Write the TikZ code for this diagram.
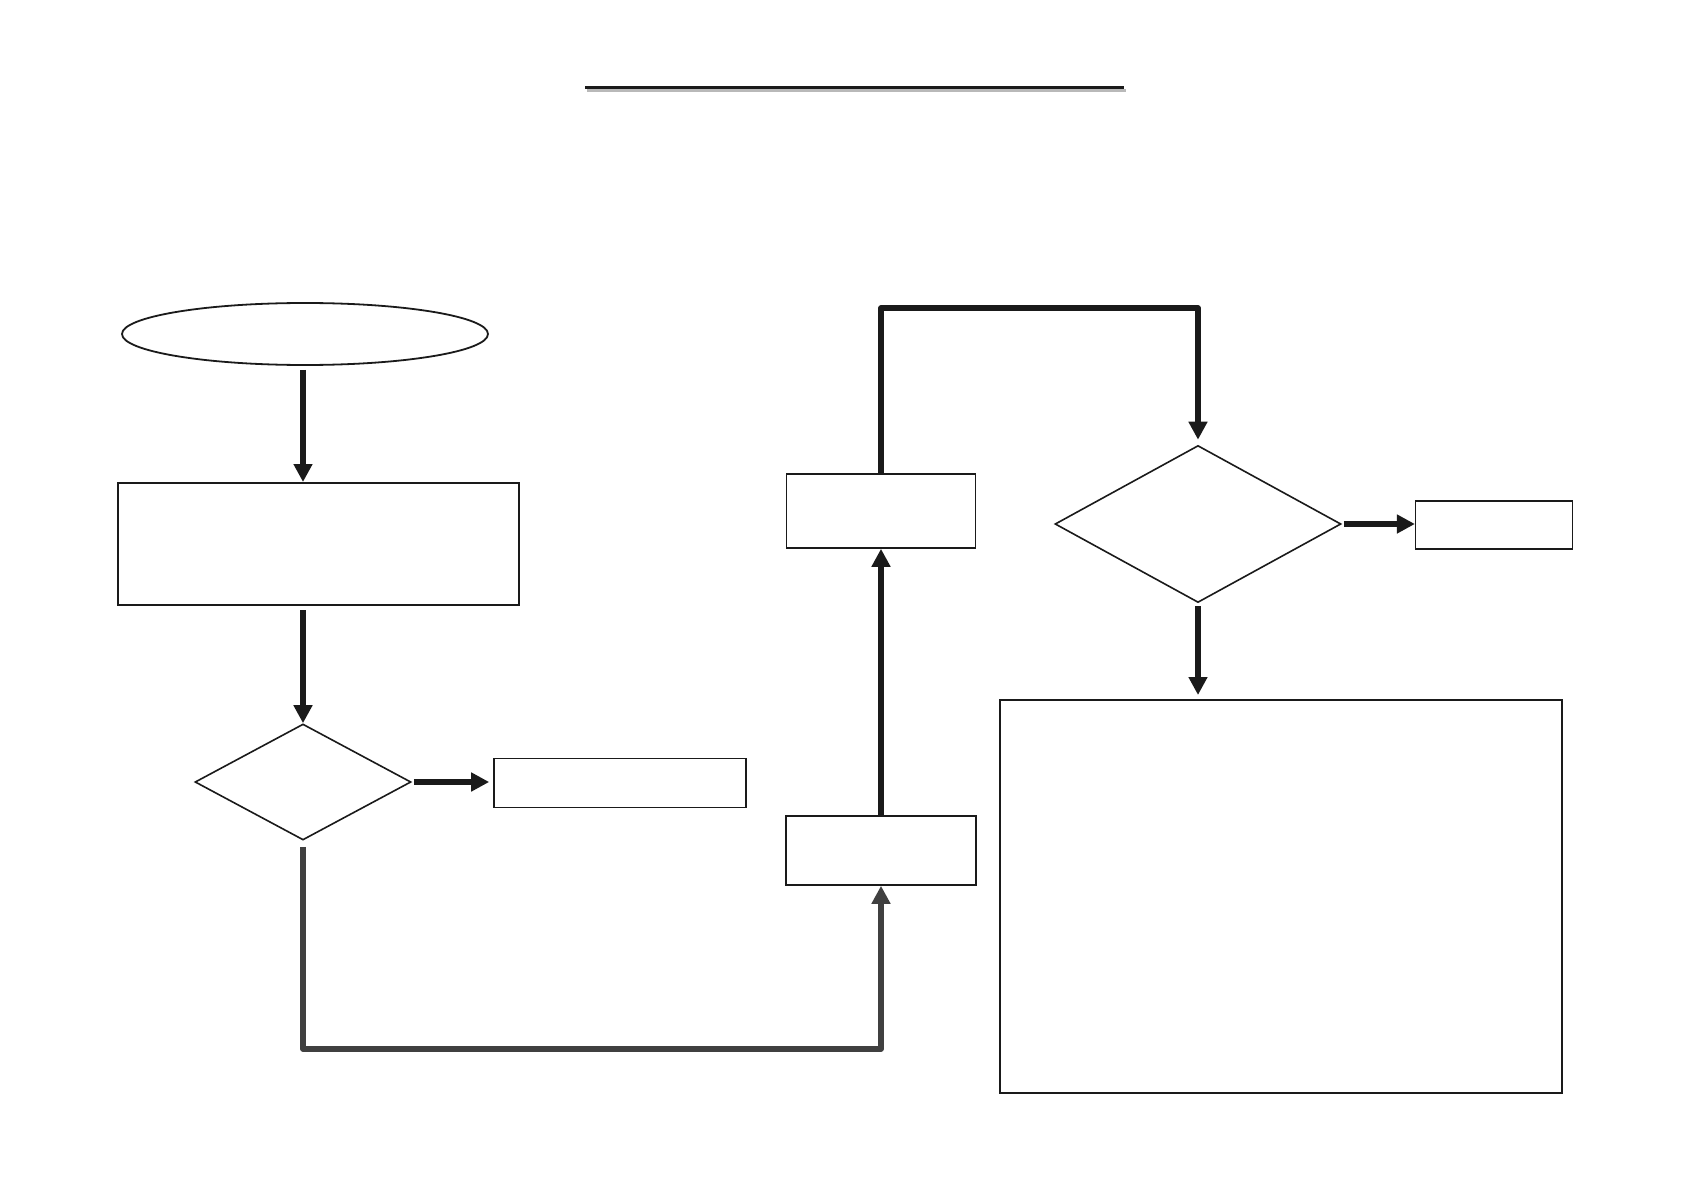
\documentclass[tikz,border=0pt]{standalone}
\usetikzlibrary{arrows.meta,shapes.geometric}
\definecolor{ink}{HTML}{1A1A1A}
\definecolor{greyink}{HTML}{404040}
\tikzset{
  box/.style={draw=ink,rectangle,inner sep=0pt,line width=1.6pt},
  dia/.style={draw=ink,diamond,inner sep=0pt,line width=1.6pt},
  conn/.style={draw=ink,line width=5.5pt,line join=round,-{Triangle[width=18pt,length=18pt]}},
  conng/.style={draw=greyink,line width=5.5pt,line join=round,-{Triangle[width=18pt,length=18pt]}}
}
\begin{document}
\begin{tikzpicture}[x=1pt,y=-1pt]
\useasboundingbox (0,0) rectangle (1684,1190);
% title underline with shadow
\draw[line width=3pt,gray!55] (587,91) -- (1126,91);
\draw[line width=3pt,ink] (585,88) -- (1124,88);
% nodes
\node[draw=ink,ellipse,line width=1.8pt,minimum width=366pt,minimum height=62pt,inner sep=0pt] (ell) at (305,334) {};
\node[box,line width=2pt,minimum width=401pt,minimum height=122pt] (b1) at (318.5,544) {};
\node[dia,minimum width=216pt,minimum height=116pt] (d1) at (303,782) {};
\node[box,minimum width=252pt,minimum height=49pt] (b2) at (620,783) {};
\node[box,minimum width=190pt,minimum height=69pt] (b3) at (881,850.5) {};
\node[box,minimum width=189pt,minimum height=74pt] (b4) at (881,511) {};
\node[dia,minimum width=286pt,minimum height=157pt] (d2) at (1198,524) {};
\node[box,line width=1.2pt,minimum width=157pt,minimum height=48pt] (b5) at (1494,525) {};
\node[box,line width=2pt,minimum width=562pt,minimum height=393pt] (b6) at (1281,896.5) {};
\coordinate (c4) at (303,1049);
\coordinate (c6) at (1198,308);
% connectors
\draw[conn,shorten <=4pt] (d1.north |- ell.south) -- (d1.north |- b1.north);
\draw[conn,shorten <=4pt] (d1.north |- b1.south) -- (d1.north);
\draw[conn,shorten <=2pt,shorten >=4pt] (d1.east) -- (d1.east -| b2.west);
\draw[conng,shorten <=6pt] (d1.south) -- (c4) -| (b3.south);
\draw[conn] (b3.north) -- (b4.south);
\draw[conn] (b4.north) |- (c6) -- ([yshift=5pt]d2.north);
\draw[conn,shorten <=2pt] (d2.east) -- (d2.east -| b5.west);
\draw[conn,shorten <=3pt,shorten >=4pt] (d2.south) -- (d2.south |- b6.north);
\end{tikzpicture}
\end{document}
